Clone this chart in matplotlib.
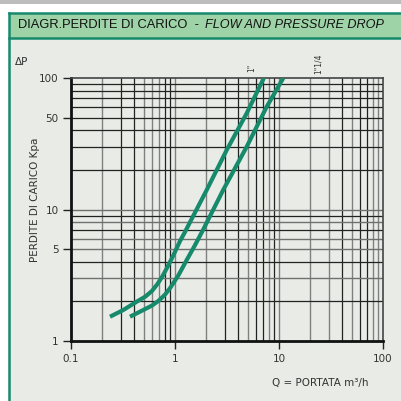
import matplotlib.pyplot as plt
from matplotlib.patches import Rectangle

# curve data (Q in m3/h, dP in kPa)
q_1 = [0.237, 0.318, 0.428, 0.52, 0.6, 0.68, 0.76, 0.85, 0.96, 1.117, 1.248, 1.393, 2.02, 3.14, 4.89, 7.15]
dp_1 = [1.53, 1.72, 1.99, 2.18, 2.40, 2.72, 3.12, 3.68, 4.45, 5.75, 6.75, 8.0, 14.1, 28.3, 53.9, 100]
q_114 = [0.369, 0.495, 0.6, 0.7, 0.8, 0.895, 1.076, 1.296, 1.556, 1.87, 2.91, 4.89, 7.62, 11.0]
dp_114 = [1.53, 1.72, 1.86, 2.03, 2.25, 2.52, 3.15, 4.13, 5.35, 7.05, 14.1, 30.0, 60.5, 100]

x_ticks = [0.1, 1, 10, 100]
x_ticklabels = ["0.1", "1", "10", "100"]
y_ticks = [1, 5, 10, 50, 100]
y_ticklabels = ["1", "5", "10", "50", "100"]

# grid lines (grey / black as in the printed diagram)
x_grey = [0.2, 0.5, 0.6, 0.7, 1, 2, 5, 8, 10, 20, 30, 50, 80, 90]
x_black = [0.3, 0.4, 0.8, 0.9, 3, 4, 6, 7, 9, 40, 60, 70]
y_grey = [3, 5, 6, 8, 10]
y_black = [2, 4, 7, 9, 20, 30, 40, 50, 60, 70, 80, 90]

verde = "#178a6c"
fondo = "#e8ebe6"

fig = plt.figure(figsize=(4.01, 4.01), dpi=100)
fig.patch.set_facecolor("white")

W, H = 401.0, 401.0
def fx(px):
    return px / W
def fy(py):
    return 1 - py / H

# top grey strip
fig.patches.append(Rectangle((0, fy(4)), 1, 4 / H, transform=fig.transFigure,
                             facecolor="#bdbdbd", edgecolor="none", zorder=-5))
# panel
fig.patches.append(Rectangle((fx(9), 0), 1, fy(38), transform=fig.transFigure,
                             facecolor=fondo, edgecolor="none", zorder=-5))
# title bar
fig.patches.append(Rectangle((fx(9), fy(38)), 1, 25 / H, transform=fig.transFigure,
                             facecolor="#9dd3a6", edgecolor="none", zorder=-5))
# green lines of the frame
fig.add_artist(plt.Line2D([fx(9), 1], [fy(13), fy(13)], color=verde, lw=1.8, transform=fig.transFigure))
fig.add_artist(plt.Line2D([fx(9), 1], [fy(38), fy(38)], color=verde, lw=1.8, transform=fig.transFigure))
fig.add_artist(plt.Line2D([fx(9), fx(9)], [0, fy(13)], color=verde, lw=1.8, transform=fig.transFigure))

fig.text(fx(18), fy(25.5), "DIAGR.PERDITE DI CARICO  -", family="Liberation Sans",
         fontsize=9.3, va="center", ha="left", color="#111111")
fig.text(fx(205), fy(25.5), "FLOW AND PRESSURE DROP", family="Liberation Sans",
         fontsize=9.1, style="italic", va="center", ha="left", color="#111111")

ax = fig.add_axes([fx(71), fy(341), 312 / W, 263 / H])
ax.set_zorder(2)
ax.set_facecolor(fondo)
ax.set_xscale("log")
ax.set_yscale("log")
ax.set_xlim(0.1, 100)
ax.set_ylim(1, 100)

for v in x_grey:
    ax.axvline(v, color="#808080", lw=1.0, zorder=1)
for v in x_black:
    ax.axvline(v, color="#222222", lw=0.9, zorder=1)
for v in y_grey:
    ax.axhline(v, color="#707070", lw=1.0, zorder=1)
for v in y_black:
    ax.axhline(v, color="#222222", lw=0.9, zorder=1)

ax.plot(q_1, dp_1, color=verde, lw=3, solid_capstyle="butt",
        solid_joinstyle="round", zorder=3)
ax.plot(q_114, dp_114, color=verde, lw=3, solid_capstyle="butt",
        solid_joinstyle="round", zorder=3)

ax.text(5.5, 119, '1"', rotation=90, fontsize=5.5, ha="center", va="center",
        color="#333333", clip_on=False)
ax.text(23.7, 128, '1"1/4', rotation=90, fontsize=5.5, ha="center", va="center",
        color="#333333", clip_on=False)

ax.set_xticks(x_ticks)
ax.set_xticklabels(x_ticklabels)
ax.set_yticks(y_ticks)
ax.set_yticklabels(y_ticklabels)
ax.minorticks_off()
ax.tick_params(axis="both", labelsize=7.5, labelcolor="#333333", color="#222222",
               length=6, width=1.0, pad=3)

for s in ["left", "bottom"]:
    ax.spines[s].set_linewidth(2.0)
    ax.spines[s].set_color("#111111")
for s in ["top", "right"]:
    ax.spines[s].set_linewidth(1.2)
    ax.spines[s].set_color("#444444")

fig.text(fx(35), fy(200), "PERDITE DI CARICO Kpa", rotation=90, fontsize=7.5,
         ha="center", va="center", color="#333333")
fig.text(fx(22), fy(62), "\u0394P", fontsize=7.5, ha="center", va="center", color="#333333")
fig.text(fx(320), fy(383), "Q = PORTATA m\u00b3/h", fontsize=7.5, ha="center",
         va="center", color="#333333")

fig.savefig("out.png", dpi=100, facecolor=fig.get_facecolor())
